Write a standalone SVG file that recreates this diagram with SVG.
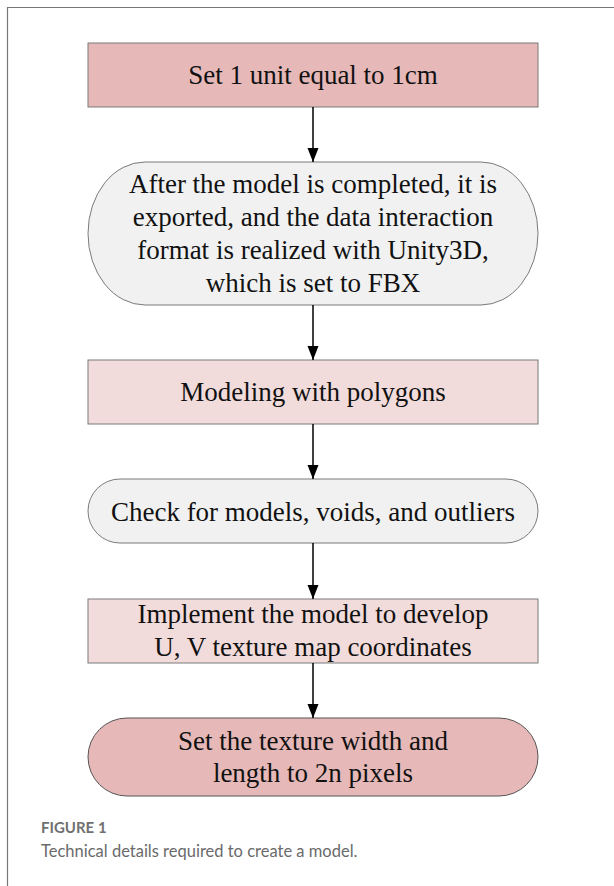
<svg xmlns="http://www.w3.org/2000/svg" width="614" height="886" viewBox="0 0 614 886">
<defs>
<marker id="ah" markerWidth="16" markerHeight="14" refX="14" refY="5.5" orient="auto" markerUnits="userSpaceOnUse">
<path d="M0,0 L14,5.5 L0,11 Z" fill="#000"/>
</marker>
<style>
.n{font-family:"Liberation Serif","Times New Roman",serif;font-size:27px;fill:#111;text-anchor:middle}
.c{stroke:#000;stroke-width:1.5;fill:none;marker-end:url(#ah)}
.sd{stroke:#7a7a7a;stroke-width:1}
</style>
</defs>
<rect x="0" y="0" width="614" height="886" fill="#fff"/>
<path d="M7.5,886 V7.5 H614" fill="none" stroke="#777" stroke-width="1.2"/>
<g id="n1"><rect x="88" y="43" width="450" height="64" fill="#e6b9b8" class="sd"/><text class="n" x="313" y="84">Set 1 unit equal to 1cm</text></g>
<g id="n2"><path d="M145,162 H481 A57,71.5 0 0 1 481,305 H145 A57,71.5 0 0 1 145,162 Z" fill="#f1f1f1" class="sd"/>
<text class="n" x="313" y="193">After the model is completed, it is</text>
<text class="n" x="313" y="226">exported, and the data interaction</text>
<text class="n" x="313" y="259">format is realized with Unity3D,</text>
<text class="n" x="313" y="292">which is set to FBX</text></g>
<g id="n3"><rect x="88" y="360" width="450" height="64" fill="#f2dcdb" class="sd"/><text class="n" x="313" y="401">Modeling with polygons</text></g>
<g id="n4"><rect x="88" y="479" width="450" height="64" rx="32" ry="32" fill="#f1f1f1" class="sd"/><text class="n" x="313" y="521">Check for models, voids, and outliers</text></g>
<g id="n5"><rect x="88" y="599" width="450" height="64" fill="#f2dcdb" class="sd"/>
<text class="n" x="313" y="623">Implement the model to develop</text>
<text class="n" x="313" y="656">U, V texture map coordinates</text></g>
<g id="n6"><rect x="88" y="718" width="450" height="78" rx="39" ry="39" fill="#e6b9b8" stroke="#555" stroke-width="1"/>
<text class="n" x="313" y="750">Set the texture width and</text>
<text class="n" x="313" y="782">length to 2n pixels</text></g>
<g id="connectors">
<line class="c" x1="313" y1="107" x2="313" y2="162"/>
<line class="c" x1="313" y1="305" x2="313" y2="360"/>
<line class="c" x1="313" y1="424" x2="313" y2="479"/>
<line class="c" x1="313" y1="543" x2="313" y2="599"/>
<line class="c" x1="313" y1="663" x2="313" y2="718"/>
</g>
<g id="caption">
<text x="41" y="833" font-family="Lato,'Open Sans',sans-serif" font-size="15" font-weight="700" fill="#707070">FIGURE 1</text>
<text x="41" y="857" font-family="Lato,'Open Sans',sans-serif" font-size="16.5" fill="#6a6a6a">Technical details required to create a model.</text>
</g>
</svg>
